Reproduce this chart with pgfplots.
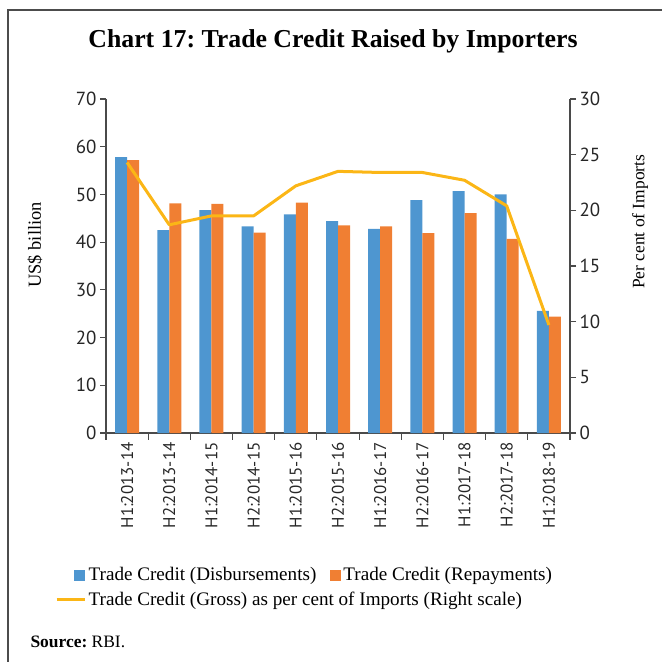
\documentclass[border=0pt]{standalone}
\usepackage{fontspec}
\setmainfont{Liberation Serif}
\newfontfamily\tickfont{PT Sans}
\usepackage{pgfplots}
\pgfplotsset{compat=1.18}
\definecolor{cdisb}{HTML}{4E96D0}
\definecolor{crepay}{HTML}{F07F33}
\definecolor{cline}{HTML}{FBB616}
\definecolor{caxis}{HTML}{4A4A4A}
\frenchspacing

\begin{document}
\begin{tikzpicture}
  \useasboundingbox (0bp,0bp) rectangle (662bp,662bp);
  \draw[line width=1.2bp, color=black!70] (8bp,0bp) -- (8bp,652bp) -- (662bp,652bp);
  \node[font=\bfseries\fontsize{25.9}{25.9}\selectfont] at (333bp,621bp) {Chart 17: Trade Credit Raised by Importers};
  \node[anchor=base west, font=\fontsize{17.5}{17.5}\selectfont] at (27bp,15bp) {\textbf{Source:} RBI.};

  \pgfplotsset{
    every axis/.append style={
      at={(106bp,229bp)}, anchor=south west,
      scale only axis, width=464bp, height=334bp,
      xmin=-0.5, xmax=10.5,
      axis line style={color=caxis, line width=1.2bp},
      tick style={color=caxis, line width=1.1bp},
      tick align=outside,
      major tick length=6bp,
      /pgf/number format/assume math mode=true,
      yticklabel style={font=\tickfont\fontsize{19}{19}\selectfont, color=black!85},
      ylabel style={font=\fontsize{18.5}{18.5}\selectfont, anchor=center},
    },
  }

  \begin{axis}[
      ymin=0, ymax=70, ytick={0,10,...,70},
      axis y line*=left, axis x line*=bottom,
      ybar=0pt, bar width=12bp,
      xtick={0,...,10},
      xticklabels={H1:2013-14,H2:2013-14,H1:2014-15,H2:2014-15,H1:2015-16,H2:2015-16,H1:2016-17,H2:2016-17,H1:2017-18,H2:2017-18,H1:2018-19},
      major x tick style={draw=none},
      minor xtick={-0.5,0.5,...,10.5},
      minor tick length=7bp,
      xticklabel style={rotate=90, anchor=east, font=\tickfont\fontsize{17}{17}\selectfont, color=black!85},
      ylabel={US\$ billion},
      ylabel style={at={(axis description cs:-0.153,0.563)}},
      legend columns=2,
      legend cell align=left,
      legend style={at={(axis description cs:-0.11,-0.395)}, anchor=north west,
        draw=none, fill=none, inner sep=0pt,
        font=\fontsize{19.2}{19.2}\selectfont,
        nodes={inner sep=2.5bp},
        /tikz/every even column/.append style={column sep=-6bp},
        row sep=5bp},
    ]
    \addplot[fill=cdisb, draw=none,
      legend image code/.code={\path[draw=none, fill=none] (0bp,0bp) rectangle (28bp,0.1bp); \fill[cdisb] (17bp,-5.5bp) rectangle (28bp,5.5bp);}]
      coordinates {(0,57.8) (1,42.5) (2,46.7) (3,43.3) (4,45.8) (5,44.4) (6,42.8) (7,48.8) (8,50.7) (9,50.0) (10,25.6)};
    \addlegendentry{Trade Credit (Disbursements)}
    \addplot[fill=crepay, draw=none,
      legend image code/.code={\path[draw=none, fill=none] (0bp,0bp) rectangle (28bp,0.1bp); \fill[crepay] (17bp,-5.5bp) rectangle (28bp,5.5bp);}]
      coordinates {(0,57.2) (1,48.1) (2,48.0) (3,42.0) (4,48.3) (5,43.5) (6,43.3) (7,41.9) (8,46.1) (9,40.7) (10,24.4)};
    \addlegendentry{Trade Credit (Repayments)}
    \addlegendimage{legend image code/.code={\draw[cline, line width=3bp] (0bp,0bp) -- (28bp,0bp);}}
    \addlegendentry{\makebox[0pt][l]{Trade Credit (Gross) as per cent of Imports (Right scale)}}
  \end{axis}

  \begin{axis}[
      ymin=0, ymax=30, ytick={0,5,...,30},
      axis y line*=right, axis x line=none,
      ylabel={Per cent of Imports},
      ylabel style={at={(axis description cs:1.151,0.632)}, font=\fontsize{17.5}{17.5}\selectfont},
    ]
    \addplot[color=cline, line width=3bp, mark=none, line join=round]
      coordinates {(0,24.3) (1,18.7) (2,19.5) (3,19.5) (4,22.2) (5,23.5) (6,23.4) (7,23.4) (8,22.7) (9,20.4) (10,9.7)};
  \end{axis}
\end{tikzpicture}
\end{document}
